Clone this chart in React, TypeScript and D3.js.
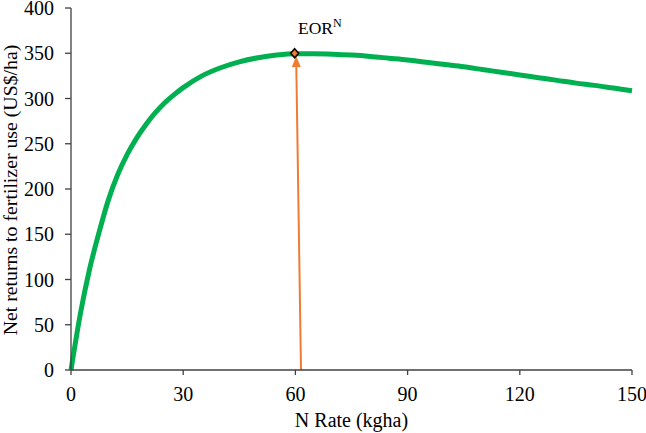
import React from "react";
import * as d3 from "d3";

const nRates = [0, 2.5, 5, 7.5, 10, 12.5, 15, 17.5, 20, 22.5, 25, 27.5, 30, 35, 40, 45, 50, 55, 60, 65, 70, 75, 80, 85, 90, 95, 100, 105, 110, 115, 120, 125, 130, 135, 140, 145, 150];
const netReturns = [0, 62, 112, 152, 188, 216, 238, 256, 271, 284, 295, 304, 312, 325, 334, 340.5, 345, 348, 349.5, 349.5, 349, 348, 346.5, 344.5, 342.5, 340, 337.5, 335, 332, 329, 326, 323, 320, 317, 314.5, 311.5, 308.5];
const xTicks = [0, 30, 60, 90, 120, 150];
const yTicks = [0, 50, 100, 150, 200, 250, 300, 350, 400];
const eorPoint = { n: 59.8, value: 350 };
const arrowStart = { n: 61.5, value: 0 };
const arrowEnd = { n: 60.2, value: 347 };

const W = 646, H = 433;
const M = { left: 71, right: 14, top: 8, bottom: 63 };

export default function App() {
  const x = d3.scaleLinear().domain([0, 150]).range([M.left, W - M.right]);
  const y = d3.scaleLinear().domain([0, 400]).range([H - M.bottom, M.top]);
  const pts: [number, number][] = nRates.map((n, i) => [n, netReturns[i]]);
  const line = d3.line<[number, number]>().x(d => x(d[0])).y(d => y(d[1])).curve(d3.curveMonotoneX);
  const axisColor = "#404040";
  const font = "'Liberation Serif', 'Times New Roman', serif";
  const ex = x(eorPoint.n), ey = y(eorPoint.value);
  const ax1 = x(arrowStart.n), ay1 = y(arrowStart.value);
  const ax2 = x(arrowEnd.n), ay2 = y(arrowEnd.value);
  const ang = Math.atan2(ay2 - ay1, ax2 - ax1);
  const headLen = 11, headW = 4.5;
  const bx = ax2 - headLen * Math.cos(ang), by = ay2 - headLen * Math.sin(ang);
  const px = -Math.sin(ang) * headW, py = Math.cos(ang) * headW;
  const y0 = y(0);
  return (
    <svg width={W} height={H} style={{ position: "absolute", left: 0, top: 0, background: "#fff", fontFamily: font }}>
      <path d={line(pts) || ""} fill="none" stroke="#00B050" strokeWidth={5} strokeLinejoin="round" />
      <line x1={ax1} y1={ay1} x2={bx} y2={by} stroke="#ED7D31" strokeWidth={2} />
      <polygon points={`${ax2},${ay2} ${bx + px},${by + py} ${bx - px},${by - py}`} fill="#ED7D31" />
      <polygon points={`${ex},${ey - 4.5} ${ex + 4},${ey} ${ex},${ey + 4.5} ${ex - 4},${ey}`} fill="#ED7D31" stroke="#000" strokeWidth={1.5} />
      <text x={298} y={34} fontSize={17.5} fill="#000">EOR<tspan fontSize={12} dy={-7}>N</tspan></text>
      <line x1={M.left} y1={M.top} x2={M.left} y2={y0} stroke={axisColor} strokeWidth={1.3} />
      <line x1={M.left} y1={y0} x2={W - M.right} y2={y0} stroke={axisColor} strokeWidth={1.3} />
      {yTicks.map(t => (
        <g key={"y" + t}>
          <line x1={M.left - 6} x2={M.left} y1={y(t)} y2={y(t)} stroke={axisColor} strokeWidth={1.3} />
          <text x={M.left - 17} y={y(t)} dy="0.35em" textAnchor="end" fontSize={20} fill="#000">{t}</text>
        </g>
      ))}
      {xTicks.map(t => (
        <g key={"x" + t}>
          <line x1={x(t)} x2={x(t)} y1={y0} y2={y0 + 5} stroke={axisColor} strokeWidth={1.3} />
          <text x={x(t)} y={y0 + 31} textAnchor="middle" fontSize={20} fill="#000">{t}</text>
        </g>
      ))}
      <text x={(M.left + W - M.right) / 2} y={427} textAnchor="middle" fontSize={20} fill="#000">N Rate (kgha)</text>
      <text transform={`translate(16.5,190) rotate(-90)`} textAnchor="middle" fontSize={19.8} fill="#000">Net returns to fertilizer use (US$/ha)</text>
    </svg>
  );
}
